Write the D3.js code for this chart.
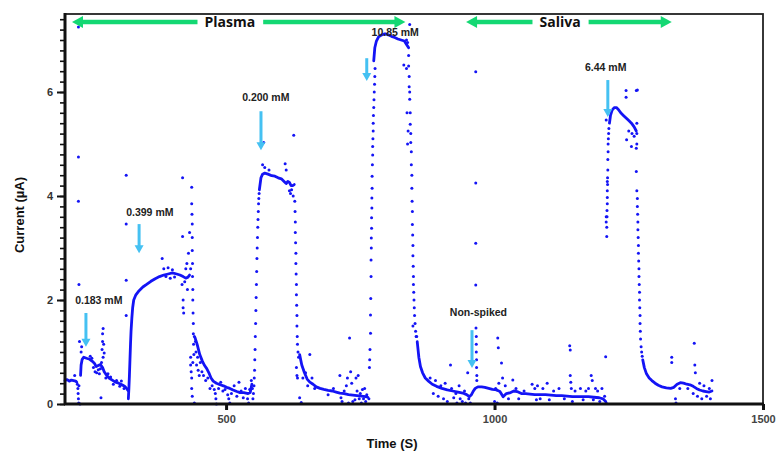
<!DOCTYPE html>
<html>
<head>
<meta charset="utf-8">
<script src="https://cdn.jsdelivr.net/npm/d3@7"></script>
<style>
  body { margin: 0; background: #fff; }
  svg { display: block; font-family: "Liberation Sans", Arial, sans-serif; }
</style>
</head>
<body>
<div id="chart"></div>
<script>
// ---- data: time (s), current (µA) ----
const xTicks = [500, 1000, 1500];
const yTicks = [0, 2, 4, 6];

// dense parts of the trace (drawn as a thick line)
const baseA = [[200,0.45],[204,0.47],[208,0.44],[212,0.46],[216,0.45],[220,0.44],[222,0.42]];
const peakA = [[229,0.55],[230,0.75],[232,0.86],[235,0.9],[240,0.88],[246,0.86],[251,0.82],[255,0.78],[258,0.72],[262,0.74],[266,0.76],[270,0.7],[273,0.62],[277,0.56],[282,0.5],[288,0.46],[294,0.42],[300,0.4],[306,0.37],[311,0.34],[315,0.3],[317,0.26]];
const peakB = [[318,0.1],[319,0.3],[320,0.55],[321,0.85],[322,1.15],[323,1.4],[324.5,1.65],[326,1.85],[328,2.0],[332,2.1],[338,2.18],[345,2.25],[352,2.3],[360,2.36],[368,2.41],[376,2.45],[384,2.48],[392,2.5],[400,2.52],[408,2.5],[414,2.48],[420,2.45],[425,2.42],[429,2.44],[432,2.48]];
const tailB = [[442,1.28],[446,1.15],[451,0.95],[456,0.82],[460,0.74],[464,0.68],[468,0.6],[472,0.5],[476,0.44],[482,0.4],[489,0.37],[495,0.35],[501,0.32],[507,0.3],[513,0.27],[520,0.24],[526,0.22],[533,0.22],[541,0.2],[545,0.22],[548,0.38]];
const peakC = [[562,4.12],[565,4.35],[568,4.42],[572,4.44],[578,4.42],[585,4.39],[591,4.38],[597,4.35],[603,4.33],[608,4.28],[612,4.24],[615,4.28],[618,4.26],[621,4.2],[624,4.2],[627,4.22]];
const tailC = [[637,0.95],[641,0.75],[646,0.6],[651,0.48],[656,0.42],[662,0.38],[668,0.33],[675,0.3],[682,0.28],[690,0.26],[698,0.25],[705,0.23],[712,0.21],[720,0.2],[728,0.18],[736,0.17],[744,0.16],[752,0.15],[760,0.14],[764,0.13]];
const peakD = [[775,6.6],[777,6.85],[780,6.98],[784,7.06],[790,7.1],[796,7.12],[802,7.1],[808,7.07],[814,7.05],[820,7.02],[826,7.0],[832,6.98],[837,6.9],[840,6.85]];
const tailD = [[856,1.2],[859,0.9],[862,0.72],[866,0.6],[871,0.5],[877,0.44],[884,0.38],[892,0.34],[902,0.3],[912,0.27],[922,0.25],[932,0.23],[941,0.21],[948,0.18],[953,0.14],[957,0.18],[960,0.24],[964,0.3],[969,0.33],[976,0.33],[982,0.32],[989,0.3],[996,0.28],[1004,0.27]];
const baseSaliva = [[1004,0.27],[1010,0.24],[1016,0.14],[1022,0.2],[1030,0.22],[1036,0.25],[1042,0.24],[1050,0.2],[1058,0.2],[1066,0.19],[1075,0.18],[1085,0.18],[1095,0.18],[1105,0.17],[1115,0.16],[1125,0.16],[1135,0.15],[1145,0.14],[1155,0.14],[1165,0.14],[1175,0.14],[1185,0.13],[1195,0.12],[1202,0.1],[1207,0.05]];
const peakE = [[1214,5.4],[1216,5.55],[1219,5.65],[1223,5.7],[1227,5.7],[1231,5.66],[1235,5.6],[1240,5.55],[1245,5.5],[1250,5.45],[1255,5.4],[1260,5.33],[1264,5.25]];
const tailE = [[1276,0.85],[1279,0.7],[1283,0.58],[1288,0.5],[1293,0.45],[1299,0.4],[1305,0.36],[1312,0.33],[1320,0.31],[1328,0.3],[1334,0.32],[1340,0.38],[1346,0.41],[1352,0.4],[1358,0.38],[1364,0.37],[1370,0.34],[1376,0.3],[1382,0.27],[1388,0.25],[1394,0.24],[1400,0.23],[1405,0.25]];

// sparse points (rises, falls, spikes and noise)
const dotsA = [[224,0.3],[224.5,0.2],[225,0.1],[225.5,0.02],[226,0.35],[225,7.25],[225,4.75],[225,3.9],[226,2.3],[227,1.2],[223,0.38],[218,0.55],[228,0.0],[230,1.0],[231,1.1],
  [256,0.62],[259,0.6],[262,0.66],[264,0.58],[266,0.68],[268,0.8],[269,1.05],[270,1.2],[270,1.35],[271,1.45],[272,1.15],[271,0.9],[273,0.98],[267,0.12],[276,0.5],[280,0.58],[285,0.52],[290,0.38],[296,0.45],[302,0.34],[305,0.44],[310,0.3],[247,0.92],[250,0.88],[253,0.7]];
const dotsB = [[314,4.4],[314,3.46],[314,2.38],[314,1.7],[384,2.6],[388,2.45],[392,2.62],[396,2.42],[400,2.58],[404,2.44],[381,2.8],
  [419,4.35],[419,3.22],[420,2.0],[420,1.85],[421,1.75],[418,2.3],[423,2.35],[425,2.6],[427,2.7],[428,2.2],[430,2.9],[432,3.3],[434,2.6],[436,4.17],[436,3.85],[436.5,3.65],[437,3.46],[437,3.2],[437,2.95],[437.5,2.7],[437.5,2.45],[438,2.2],[438,2.0],[438.5,1.75],[439,1.55],[439,1.35],[439.5,1.15],[440,0.95],[434,0.9],[434,0.75],[435,0.62],[436,0.5],[436,0.3],[437,0.15],[441,0.02],[438,0.8],[441,1.3],[443,1.2],[444,1.0],[445,0.75],[447,0.9],[448,0.65],[450,0.55],[452,0.8],[455,0.62],[458,0.55],[462,0.45],[466,0.5],[470,0.3],[474,0.35],[478,0.28],[480,0.2],[481,0.1],[482,0.0],[486,0.3],[490,0.42],[494,0.25],[498,0.28],[503,0.18],[505,0.1],[507,0.02],[510,0.2],[515,0.35],[520,0.15],[524,0.42],[528,0.25],[532,0.12],[536,0.3],[540,0.1],[542,0.02],[544,0.28],[547,0.45],[549,0.3]];
const dotsC = [[550,0.1],[551,0.2],[552,0.35],[552.5,0.5],[553,0.65],[553.5,0.85],[554,1.05],[554.5,1.3],[555,1.55],[555.5,1.8],[556,2.05],[556.5,2.3],[557,2.55],[557.5,2.8],[558,3.0],[558.5,3.2],[559,3.4],[559.5,3.55],[560,3.7],[560.5,3.85],[561,3.95],[561.5,4.05],
  [570,5.03],[568,4.6],[572,4.55],[580,4.5],[610,4.62],[612,4.5],[626,5.17],[618,4.1],[620,4.05],[625,4.0],[622,4.12],
  [628,3.9],[628.5,3.7],[629,3.5],[629,3.3],[629.5,3.1],[630,2.9],[630,2.7],[630.5,2.5],[631,2.3],[631,2.1],[631.5,1.9],[632,1.7],[632,1.5],[632.5,1.3],[633,1.15],[634,1.0],[635,0.9],[631,0.7],[632,0.55],[633,0.5],[640,0.03],[637,0.12],[643,0.5],[648,0.6],[652,0.35],[656,0.95],[660,0.5],[665,0.3],
  [690,0.18],[700,0.3],[712,0.55],[714,0.12],[716,0.05],[720,0.25],[724,0.35],[726,0.5],[728,0.02],[730,1.27],[732,0.62],[734,0.4],[736,0.05],[740,0.08],[742,0.5],[744,0.25],[746,0.55],[748,0.1],[750,0.2],[752,0.02],[754,0.28],[756,0.1],[758,0.3],[760,0.05],[762,0.18]];
const dotsD = [[766,0.1],[767,0.7],[767.5,0.85],[768,1.05],[769,1.36],[769,1.71],[769.5,2.03],[770,2.45],[770,2.77],[770.5,3.0],[770.5,3.19],[771,3.38],[771,3.58],[771.5,3.77],[771.5,3.96],[772,4.15],[772,4.38],[772.5,4.6],[773,4.79],[773,4.95],[773.5,5.1],[774,5.25],[774,5.4],[774.5,5.55],[775,5.7],[775.5,5.85],[776,6.0],[776.5,6.15],[777,6.3],[777.5,6.45],
  [836,7.0],[838,6.95],[840,6.7],[840,6.5],[841,6.3],[841,6.1],[842,6.0],[842,5.86],[843,5.6],[843,5.38],[844,5.2],[844,5.03],[845,4.85],[845,4.6],[846,4.4],[846,4.15],[846.5,3.9],[847,3.7],[847,3.45],[847.5,3.25],[848,3.05],[848,2.85],[848.5,2.65],[849,2.45],[849,2.3],[849.5,2.15],[850,2.0],[850.5,1.85],[851,1.7],[852,1.55],[853,1.4],[854,1.3],[855,1.3],[839,5.25],[838,5.0],[837,5.6],[836,6.45],[842,7.3],[848,1.5],[831,6.52],
  [880,0.5],[886,0.2],[890,0.45],[895,0.15],[900,0.35],[905,0.1],[908,0.4],[912,0.05],[918,0.75],[920,0.3],[924,0.12],[928,0.2],[930,0.02],[934,0.35],[936,0.1],[940,0.05],[944,0.25],[946,0.02],[950,0.6],[952,0.1],[955,0.02]];
const dotsSaliva = [[965,6.39],[965,4.25],[965,3.09],[965,2.29],[965.5,1.46],[966,1.3],[966,1.15],[966,1.0],[966.5,0.85],[966.5,0.7],[967,0.55],[967,0.45],
  [1000,0.05],[1002,0.3],[1005,0.02],[1006,1.27],[1007,1.08],[1008,0.4],[1013,0.79],[1015,0.5],[1020,0.35],[1026,0.1],[1034,0.46],[1040,0.3],[1045,0.1],[1055,0.25],[1070,0.38],[1075,0.3],[1078,0.08],[1080,0.35],[1085,0.1],[1090,0.3],[1098,0.4],[1102,0.08],[1110,0.25],[1120,0.3],[1130,0.1],[1140,1.12],[1141,1.04],[1141,0.55],[1142,0.42],[1143,0.3],[1145,0.05],[1150,0.25],[1160,0.3],[1165,0.08],[1170,0.25],[1175,0.3],[1180,0.55],[1182,0.45],[1184,0.08],[1188,0.3],[1192,0.25],[1196,0.05],[1200,0.3],[1205,0.15],[1207,0.91],[1208,0.02]];
const dotsE = [[1209,3.22],[1209,3.4],[1209.5,3.6],[1209.5,3.72],[1210,3.85],[1210,3.97],[1210,4.1],[1210.5,4.22],[1210.5,4.35],[1211,4.5],[1211,4.7],[1211.5,4.85],[1211.5,5.0],[1212,5.1],[1212.5,5.2],[1213,5.3],[1208,5.46],[1208,3.5],[1208,3.6],[1210,4.28],
  [1245,6.03],[1245,5.9],[1264,6.03],[1246,5.08],[1255,4.95],[1264,4.92],[1264,4.47],[1250,5.25],[1256,5.2],[1260,5.15],
  [1265,4.1],[1266,3.95],[1266,3.8],[1266.5,3.65],[1267,3.5],[1267,3.35],[1267.5,3.2],[1268,3.05],[1268,2.9],[1268.5,2.75],[1269,2.6],[1269,2.45],[1269.5,2.3],[1270,2.15],[1270,2.0],[1270.5,1.85],[1271,1.7],[1271,1.55],[1271.5,1.4],[1272,1.25],[1273,1.1],[1274,1.0],[1275,0.92],[1265,5.4],[1265,5.2],[1265,5.0],[1266,6.04],
  [1330,0.9],[1330,0.8],[1337,0.1],[1338,0.02],[1345,0.3],[1360,0.3],[1370,0.2],[1372,1.17],[1373,0.75],[1374,0.6],[1378,0.15],[1382,0.4],[1386,0.1],[1390,0.35],[1395,0.15],[1400,0.3],[1405,0.45],[1402,0.1]];

// annotation texts
const annLabels = ["0.183 mM", "0.399 mM", "0.200 mM", "10.85 mM", "Non-spiked", "6.44 mM"];
// label anchor [t, I], arrow [t, Itop, Itip]
const annLabelPos = [[263,1.92],[358,3.62],[574,5.83],[815,7.08],[970,1.69],[1207,6.4]];
const annArrows = [[239,1.75,1.1],[338,3.46,2.9],[565,5.63,4.88],[762,6.65,6.21],[958,1.42,0.69],[1211,6.23,5.52]];

const regions = ["Plasma", "Saliva"];
const regionSpan = [[213,834,507],[947,1330,1122]]; // start, end, text centre (s)

// ---- layout ----
const W = 784, H = 462;
const x = d3.scaleLinear().domain([200, 1500]).range([65, 763]);
const y = d3.scaleLinear().domain([0, 7.5]).range([404, 14]);
const blue = "#1414f5", cyan = "#45c1f2", green = "#14d873";

const svg = d3.select("#chart").append("svg").attr("width", W).attr("height", H);

// frame
svg.append("rect").attr("x", 65).attr("y", 14).attr("width", 698).attr("height", 390)
  .attr("fill", "none").attr("stroke", "#222").attr("stroke-width", 1.8);

// data
const traces = [baseA, peakA, peakB, tailB, peakC, tailC, peakD, tailD, baseSaliva, peakE, tailE];
const line = d3.line().x(d => x(d[0])).y(d => y(d[1]));
svg.append("g").selectAll("path").data(traces).join("path")
  .attr("d", line).attr("fill", "none").attr("stroke", blue)
  .attr("stroke-width", 2.8).attr("stroke-linejoin", "round").attr("stroke-linecap", "round");

const dots = [].concat(dotsA, dotsB, dotsC, dotsD, dotsSaliva, dotsE);
svg.append("g").selectAll("circle").data(dots).join("circle")
  .attr("cx", d => x(d[0])).attr("cy", d => y(d[1])).attr("r", 1.5).attr("fill", blue);

// axes
const yAxis = svg.append("g").attr("transform", "translate(65,0)");
yAxis.call(d3.axisLeft(y).tickValues(d3.range(0, 7.45, 0.2)).tickSize(5).tickFormat(""))
  .call(g => g.select(".domain").remove())
  .selectAll("line").attr("stroke", "#111").attr("stroke-width", 1.6);
yAxis.append("g").call(d3.axisLeft(y).tickValues(yTicks).tickSize(8).tickPadding(4).tickFormat(d3.format("d")))
  .call(g => g.select(".domain").remove())
  .call(g => g.selectAll("line").attr("stroke", "#111").attr("stroke-width", 2))
  .call(g => g.selectAll("text").attr("fill", "#333").attr("font-size", 11).attr("font-weight", "bold")
    .attr("font-family", "Liberation Sans, Arial, sans-serif"));

const xAxis = svg.append("g").attr("transform", "translate(0,404)");
xAxis.call(d3.axisBottom(x).tickValues(xTicks).tickSize(6).tickPadding(5).tickFormat(d3.format("d")))
  .call(g => g.select(".domain").remove())
  .call(g => g.selectAll("line").attr("stroke", "#111").attr("stroke-width", 3))
  .call(g => g.selectAll("text").attr("fill", "#444").attr("font-size", 11).attr("font-weight", "bold")
    .attr("font-family", "Liberation Sans, Arial, sans-serif"));

svg.append("line").attr("x1", 65).attr("x2", 65).attr("y1", 13).attr("y2", 405)
  .attr("stroke", "#111").attr("stroke-width", 3);
svg.append("line").attr("x1", 64).attr("x2", 764).attr("y1", 404).attr("y2", 404)
  .attr("stroke", "#111").attr("stroke-width", 3);

// axis titles
svg.append("text").attr("transform", "translate(24,215) rotate(-90)")
  .attr("text-anchor", "middle").attr("font-size", 13).attr("font-weight", "bold").attr("fill", "#111")
  .text("Current (µA)");
svg.append("text").attr("x", 392).attr("y", 448)
  .attr("text-anchor", "middle").attr("font-size", 13).attr("font-weight", "bold").attr("fill", "#111")
  .text("Time (S)");

// annotation arrows
const ann = svg.append("g");
annLabels.forEach((t, i) => {
  const [lt, li] = annLabelPos[i];
  ann.append("text").attr("x", x(lt)).attr("y", y(li)).attr("text-anchor", "middle")
    .attr("font-size", 10.5).attr("font-weight", "bold").attr("fill", "#222").text(t);
  const [at, top, tip] = annArrows[i];
  const ax = x(at), y0 = y(top), y1 = y(tip);
  ann.append("line").attr("x1", ax).attr("x2", ax).attr("y1", y0).attr("y2", y1 - 7)
    .attr("stroke", cyan).attr("stroke-width", 3);
  ann.append("path").attr("d", `M${ax - 4.5},${y1 - 8}L${ax + 4.5},${y1 - 8}L${ax},${y1}Z`).attr("fill", cyan);
});

// region arrows
const reg = svg.append("g");
const ry = 22;
regions.forEach((name, i) => {
  const [s, e, c] = regionSpan[i];
  const txt = reg.append("text").attr("x", x(c)).attr("y", ry + 5).attr("text-anchor", "middle")
    .attr("font-size", 14).attr("font-weight", "bold").attr("fill", "#111")
    .attr("font-family", "Open Sans, Liberation Sans, sans-serif").text(name);
  const bb = txt.node().getBBox();
  const xs = x(s), xe = x(e);
  reg.append("line").attr("x1", xs + 9).attr("x2", bb.x - 7).attr("y1", ry).attr("y2", ry)
    .attr("stroke", green).attr("stroke-width", 4.5);
  reg.append("line").attr("x1", bb.x + bb.width + 8).attr("x2", xe - 9).attr("y1", ry).attr("y2", ry)
    .attr("stroke", green).attr("stroke-width", 4.5);
  reg.append("path").attr("d", `M${xs},${ry}L${xs + 11},${ry - 6}L${xs + 11},${ry + 6}Z`).attr("fill", green);
  reg.append("path").attr("d", `M${xe},${ry}L${xe - 11},${ry - 6}L${xe - 11},${ry + 6}Z`).attr("fill", green);
});
</script>
</body>
</html>
